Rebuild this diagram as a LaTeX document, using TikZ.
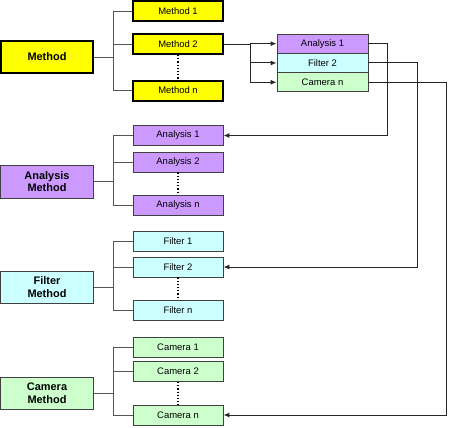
\documentclass[tikz,border=0pt]{standalone}
\usepackage{fontspec}
\setmainfont{Liberation Sans}
\usetikzlibrary{arrows.meta}
\definecolor{yel}{HTML}{FFFF00}
\definecolor{pur}{HTML}{CC99FF}
\definecolor{cya}{HTML}{CCFFFF}
\definecolor{grn}{HTML}{CCFFCC}
\definecolor{edge}{HTML}{404040}
\definecolor{treec}{HTML}{555555}
\begin{document}
\begin{tikzpicture}[x=1bp,y=-1bp,
  sbox/.style={draw=edge, line width=0.9bp, minimum width=90bp, minimum height=20bp, inner sep=0pt, font=\fontsize{9.5}{11}\selectfont},
  ybox/.style={sbox, draw=black, line width=2bp, fill=yel},
  mbox/.style={draw=edge, line width=1bp, minimum width=92bp, minimum height=32bp, inner sep=0pt, align=center, font=\fontsize{11}{12.5}\selectfont\bfseries},
  tbox/.style={sbox, minimum width=91bp, minimum height=19.3bp},
  tree/.style={draw=treec, line width=1bp},
  arr/.style={draw=black!85, line width=1bp, -{Latex[length=6bp,width=5bp]}},
  dots/.style={draw=black, line width=1.2bp, dotted}
]
\useasboundingbox (0,0) rectangle (449,427);
\coordinate (b1) at (113,0);
\coordinate (b2) at (250,0);

% Method group
\node[mbox, draw=black, line width=2bp, fill=yel] (meth) at (47,57) {Method};
\node[ybox] (m1) at (178,11) {Method 1};
\node[ybox] (m2) at (178,44) {Method 2};
\node[ybox] (mn) at (178,90.5) {Method n};

% top stack
\node[tbox, fill=pur] (ta) at (322.5,43.65) {Analysis 1};
\node[tbox, fill=cya] (tf) at (322.5,62.95) {Filter 2};
\node[tbox, fill=grn] (tc) at (322.5,82.25) {Camera n};

% Analysis group
\node[mbox, fill=pur, minimum height=33bp] (am) at (47,181.5) {Analysis\\Method};
\node[sbox, fill=pur] (an1) at (178,135.5) {Analysis 1};
\node[sbox, fill=pur] (an2) at (178,162) {Analysis 2};
\node[sbox, fill=pur] (ann) at (178,205) {Analysis n};

% Filter group
\node[mbox, fill=cya] (fm) at (47,287) {Filter\\Method};
\node[sbox, fill=cya] (f1) at (178,241) {Filter 1};
\node[sbox, fill=cya] (f2) at (178,267) {Filter 2};
\node[sbox, fill=cya] (fn) at (178,310) {Filter n};

% Camera group
\node[mbox, fill=grn] (cm) at (47,393) {Camera\\Method};
\node[sbox, fill=grn] (c1) at (178,347) {Camera 1};
\node[sbox, fill=grn] (c2) at (178,371.5) {Camera 2};
\node[sbox, fill=grn] (cn) at (178,415) {Camera n};

% trees
\foreach \M/\A/\B/\Z in {meth/m1/m2/mn, am/an1/an2/ann, fm/f1/f2/fn, cm/c1/c2/cn}{
  \draw[tree] (\M.east) -- (\M.east -| b1);
  \draw[tree] (\A.west) -- (\A.west -| b1) -- (\Z.west -| b1) -- (\Z.west);
  \draw[tree] (\B.west) -- (\B.west -| b1);
  \draw[dots] (\B.south) -- (\Z.north);
}

% arrows from Method 2 into stack
\draw[tree, draw=black!85] (m2.east) -- (m2.east -| b2) -- (tc.west -| b2);
\draw[arr] (ta.west -| b2) -- (ta.west);
\draw[arr] (tf.west -| b2) -- (tf.west);
\draw[arr] (tc.west -| b2) -- (tc.west);

% output connectors
\draw[arr] (ta.east) -- ++(19,0) |- (an1.east);
\draw[arr] (tf.east) -- ++(49,0) |- (f2.east);
\draw[arr] (tc.east) -- ++(78,0) |- (cn.east);
\end{tikzpicture}
\end{document}
